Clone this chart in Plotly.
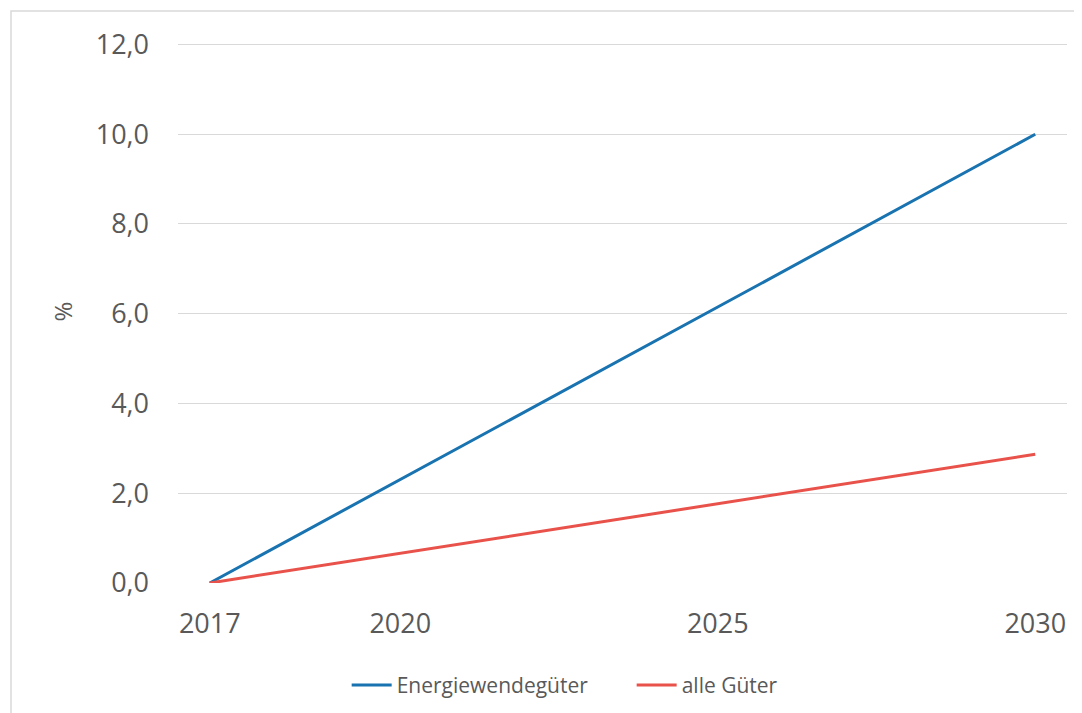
import plotly.graph_objects as go

years = [2017, 2020, 2025, 2030]
energiewende = [0.0, 2.3, 6.15, 10.0]
alle_gueter = [0.0, 0.66, 1.77, 2.87]

tick_years = [2017, 2020, 2025, 2030]
y_ticks = [0, 2, 4, 6, 8, 10, 12]

grey = "#595959"
font_name = "Open Sans"

fig = go.Figure()

fig.add_trace(go.Scatter(
    x=years,
    y=energiewende,
    mode="lines",
    name="Energiewendegüter",
    line=dict(color="#1873b0", width=3)
))

fig.add_trace(go.Scatter(
    x=years,
    y=alle_gueter,
    mode="lines",
    name="alle Güter",
    line=dict(color="#e8524a", width=3)
))

# plot area in page pixels: x 178..1067, y 44..583 (page has 8px body offset)
# y range runs slightly past 12 so the top gridline is drawn
fig.update_layout(
    width=1082,
    height=713,
    margin=dict(l=170, r=23, t=32, b=138),
    plot_bgcolor="white",
    paper_bgcolor="white",
    separators=",.",
    font=dict(family=font_name, color=grey),
    showlegend=True,
    legend=dict(
        orientation="h",
        xref="container",
        x=0.313,
        xanchor="left",
        yref="container",
        y=0.05,
        yanchor="middle",
        font=dict(size=21, color=grey),
        itemwidth=40,
        entrywidth=230,
        entrywidthmode="pixels",
    ),
)

fig.update_xaxes(
    range=[2016.5, 2030.5],
    tickvals=tick_years,
    showgrid=False,
    zeroline=False,
    showline=False,
    ticks="",
    ticklabelstandoff=22,
    tickfont=dict(size=27, color=grey),
)

fig.update_yaxes(
    range=[0, 12.1],
    tickvals=y_ticks,
    tickformat=".1f",
    showgrid=True,
    gridcolor="#d9d9d9",
    gridwidth=1,
    zeroline=False,
    showline=False,
    ticks="",
    ticklabelstandoff=28,
    tickfont=dict(size=27, color=grey),
    title=dict(text="%", font=dict(size=24, color=grey), standoff=16),
)

# light frame around the chart area
fig.add_shape(
    type="rect",
    xref="paper", yref="paper",
    x0=(3 - 170) / 889, x1=(1090 - 170) / 889,
    y0=(575 - 720) / 543, y1=(575 - 3) / 543,
    line=dict(color="#d9d9d9", width=1.5),
    fillcolor="rgba(0,0,0,0)",
    layer="below",
)

fig.write_html("out.html")
